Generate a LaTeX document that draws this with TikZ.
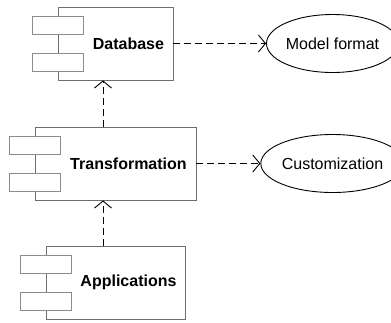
\documentclass[tikz,border=0pt]{standalone}
\usepackage{fontspec}
\setmainfont{Liberation Sans}
\usetikzlibrary{arrows.meta,positioning,calc,shapes.geometric}
\definecolor{ink}{HTML}{000000}
\definecolor{frame}{HTML}{6E6E6E}
\definecolor{portline}{HTML}{8C8C8C}
\tikzset{
  component/.style={draw=frame,fill=white,line width=0.9pt,minimum height=73pt,inner sep=0pt},
  port/.style={draw=portline,fill=white,line width=0.9pt,minimum width=51pt,minimum height=18pt,inner sep=0pt},
  title/.style={font=\fontsize{16}{19}\selectfont\bfseries,text=ink,inner sep=0pt},
  usecase/.style={draw=ink,fill=white,ellipse,line width=0.9pt,minimum width=115pt,minimum height=58pt,inner sep=0pt,font=\fontsize{16}{19}\selectfont,text=ink},
  dep/.style={-{Straight Barb[length=7pt,width=17pt,line width=0.9pt]},line width=0.9pt,draw=ink,dash pattern=on 7pt off 4pt}
}
\begin{document}
\begin{tikzpicture}[x=1pt,y=-1pt]
    \useasboundingbox (0,0) rectangle (391,322);
    \coordinate (axis) at (103,0);

    % components
    \node[component,minimum width=115pt] (db) at (115.5,43.5) {};
    \node[port] (db1) at ([yshift=18.5pt]db.west) {};
    \node[port] (db2) at ([yshift=-18.5pt]db.west) {};
    \node[title] (dbt) at ($(db1.east |- db.center)!0.5!(db.east)$) {Database};

    \node[component,minimum width=161pt] (tr) at (115.5,163.5) {};
    \node[port] (tr1) at ([yshift=18.5pt]tr.west) {};
    \node[port] (tr2) at ([yshift=-18.5pt]tr.west) {};
    \node[title] (trt) at ($(tr1.east |- tr.center)!0.5!(tr.east)$) {Transformation};

    \node[component,minimum width=139pt] (ap) at (115.5,282.5) {};
    \node[port] (ap1) at ([yshift=18.5pt]ap.west) {};
    \node[port] (ap2) at ([yshift=-18.5pt]ap.west) {};
    \node[title] (apt) at ($(ap1.east |- ap.center)!0.5!(ap.east)$) {Applications};

    % use cases
    \node[usecase] (mf) at (332.5,43.5) {Model format};
    \node[usecase] (cu) at (332.5,163.5) {Customization};

    \draw[dep] (db) -- (mf);
    \draw[dep] (tr) -- (cu);
    \draw[dep] (tr.north -| axis) -- (db.south -| axis);
    \draw[dep] (ap.north -| axis) -- (tr.south -| axis);
\end{tikzpicture}
\end{document}
